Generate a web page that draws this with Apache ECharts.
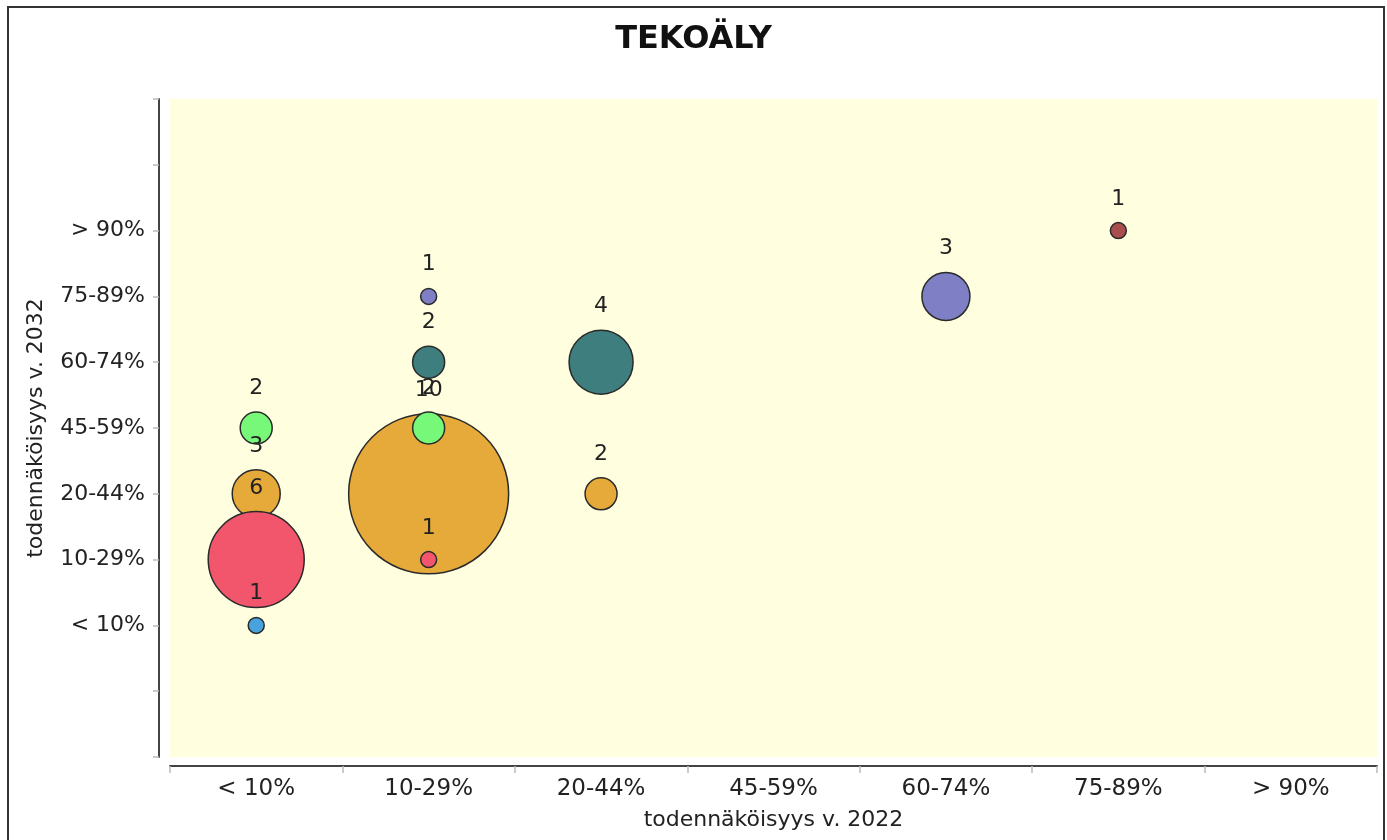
<!DOCTYPE html>
<html>
<head>
<meta charset="utf-8">
<script src="https://cdn.jsdelivr.net/npm/echarts@6/dist/echarts.min.js"></script>
<style>
html,body{margin:0;padding:0;background:#fff;}
#chart{width:1387px;height:840px;}
</style>
</head>
<body>
<div id="chart"></div>
<script>
// Category labels (x: 2022, y: 2032)
var xCategories = ['< 10%', '10-29%', '20-44%', '45-59%', '60-74%', '75-89%', '> 90%'];
var yCategories = ['< 10%', '10-29%', '20-44%', '45-59%', '60-74%', '75-89%', '> 90%'];

// One series per 2032 class: [x index (2022 class), count]
var lt10 = [[0, 1]];
var p10_29 = [[0, 6], [1, 1]];
var p20_44 = [[0, 3], [1, 10], [2, 2]];
var p45_59 = [[0, 2], [1, 2]];
var p60_74 = [[1, 2], [2, 4]];
var p75_89 = [[1, 1], [4, 3]];
var gt90 = [[5, 1]];

var levelData = [lt10, p10_29, p20_44, p45_59, p60_74, p75_89, gt90];
var levelColors = ['#48a2de', '#f2566c', '#e6aa3a', '#78f878', '#3e7e7e', '#7f7fc6', '#a84e4e'];
// drawing order (first drawn = bottom)
var drawOrder = [2, 6, 5, 4, 3, 1, 0];

var FONT = 'DejaVu Sans';

var series = drawOrder.map(function (lv) {
  return {
    type: 'scatter',
    name: yCategories[lv],
    data: levelData[lv].map(function (p) { return [p[0], lv, p[1]]; }),
    symbolSize: function (d) { return d[2] * 16; },
    itemStyle: { color: levelColors[lv], borderColor: '#2a2a2a', borderWidth: 1.5, opacity: 1 },
    label: {
      show: true,
      position: 'top',
      distance: 12,
      formatter: function (p) { return String(p.value[2]); },
      color: '#222',
      fontFamily: FONT,
      fontSize: 22
    },
    emphasis: { disabled: true },
    animation: false
  };
});

var chart = echarts.init(document.getElementById('chart'), null, { renderer: 'canvas' });
chart.setOption({
  backgroundColor: '#ffffff',
  animation: false,
  title: {
    text: 'TEKOÄLY',
    left: 'center',
    top: 19,
    textStyle: { fontFamily: FONT, fontWeight: 'bold', fontSize: 32, color: '#111' }
  },
  graphic: [{
    type: 'rect',
    shape: { x: 8, y: 7, width: 1376, height: 900 },
    style: { fill: 'none', stroke: '#333', lineWidth: 2 },
    silent: true
  }],
  grid: {
    left: 170, right: 10, top: 99, bottom: 83,
    show: true, backgroundColor: '#ffffe0', borderWidth: 0
  },
  xAxis: {
    type: 'category',
    data: xCategories,
    boundaryGap: true,
    offset: 9,
    name: 'todennäköisyys v. 2022',
    nameLocation: 'middle',
    nameGap: 43,
    nameTextStyle: { fontFamily: FONT, fontSize: 22, color: '#222' },
    axisLine: { show: true, onZero: false, lineStyle: { color: '#444', width: 2 } },
    axisTick: { show: true, alignWithLabel: false, length: 7, lineStyle: { color: '#bbb', width: 1.5 } },
    axisLabel: { fontFamily: FONT, fontSize: 23, color: '#222', margin: 12, interval: 0 },
    splitLine: { show: false }
  },
  yAxis: {
    type: 'value',
    min: -2,
    max: 8,
    interval: 1,
    offset: 11,
    name: 'todennäköisyys v. 2032',
    nameLocation: 'middle',
    nameGap: 112,
    nameTextStyle: { fontFamily: FONT, fontSize: 22, color: '#222' },
    axisLine: { show: true, onZero: false, lineStyle: { color: '#444', width: 2 } },
    axisTick: { show: true, length: 6, lineStyle: { color: '#bbb', width: 1.5 } },
    axisLabel: {
      fontFamily: FONT, fontSize: 22, color: '#222', margin: 14,
      formatter: function (v) {
        return (v >= 0 && v < yCategories.length && Math.round(v) === v) ? yCategories[v] : '';
      }
    },
    splitLine: { show: false }
  },
  series: series
});
</script>
</body>
</html>
